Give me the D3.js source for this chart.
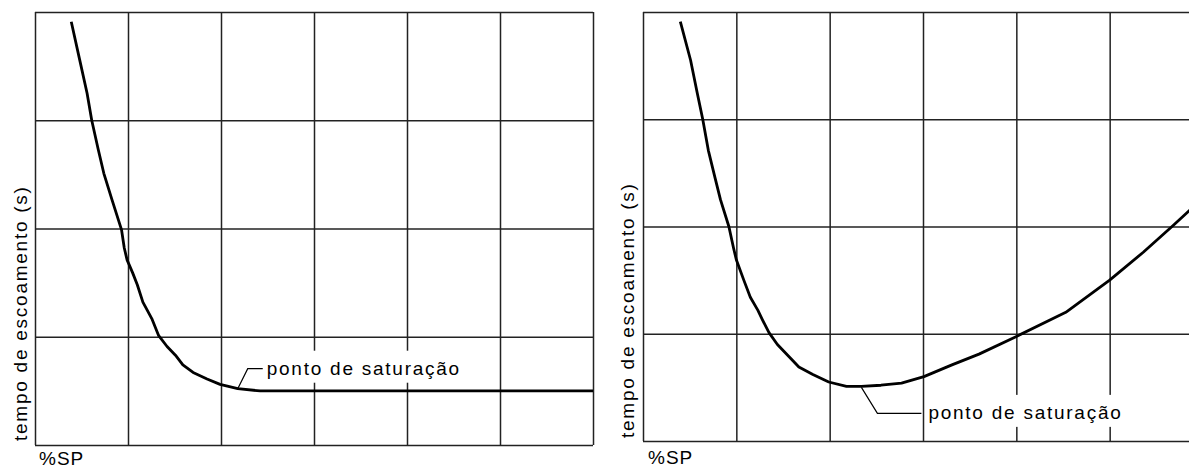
<!DOCTYPE html>
<html>
<head>
<meta charset="utf-8">
<script src="https://cdn.jsdelivr.net/npm/d3@7"></script>
<style>
  html, body { margin: 0; padding: 0; background: #fff; }
  svg { display: block; }
  text { font-family: "Liberation Sans", Arial, Helvetica, sans-serif; fill: #000; }
</style>
</head>
<body>
<svg id="chart" width="1189" height="467"></svg>
<script>
// ---- data (grid units: x = %SP divisions, y = time divisions) ----
const xTicks = [0, 1, 2, 3, 4, 5, 6];
const yTicks = [0, 1, 2, 3, 4];

const yLabel = "tempo de escoamento (s)";
const xLabel = "%SP";
const satLabel = "ponto de saturação";

// left chart: curve flattens at saturation point
const leftX = [0.39, 0.48, 0.56, 0.61, 0.68, 0.74, 0.83, 0.93, 0.96, 0.99, 1.05, 1.10, 1.16, 1.26, 1.33, 1.42, 1.51, 1.59, 1.70, 1.85, 1.99, 2.18, 2.42, 6.00];
const leftY = [3.91, 3.56, 3.25, 3.00, 2.73, 2.51, 2.26, 1.99, 1.82, 1.71, 1.59, 1.48, 1.32, 1.16, 1.01, 0.91, 0.83, 0.74, 0.67, 0.61, 0.56, 0.52, 0.50, 0.50];
const leftSat = [2.18, 0.52];

// right chart: curve rises again after saturation point
const rightX = [0.40, 0.51, 0.58, 0.64, 0.70, 0.77, 0.83, 0.92, 0.97, 1.00, 1.08, 1.15, 1.23, 1.28, 1.35, 1.44, 1.55, 1.67, 1.82, 1.99, 2.18, 2.34, 2.55, 2.77, 3.01, 3.31, 3.60, 3.99, 4.53, 5.00, 5.36, 5.68, 5.88];
const rightY = [3.91, 3.55, 3.25, 3.00, 2.71, 2.46, 2.25, 2.00, 1.80, 1.69, 1.50, 1.34, 1.22, 1.13, 1.01, 0.90, 0.80, 0.69, 0.62, 0.55, 0.51, 0.51, 0.52, 0.54, 0.60, 0.71, 0.81, 0.97, 1.20, 1.50, 1.76, 2.01, 2.17];
const rightSat = [2.34, 0.50];

// ---- layout ----
const FONT = "19px";
const SPACING = "1.75px";
const panels = [
  { xs: leftX, ys: leftY, sat: leftSat,
    x0: 35, x1: 593, y0: 445, y1: 12,
    ylabX: 27, ylabY: 441, xlabX: 39, xlabY: 465,
    leader: [[0, 0], [10, -20], [25, -20]], textDx: 29, textDy: -14 },
  { xs: rightX, ys: rightY, sat: rightSat,
    x0: 643, x1: 1203, y0: 441, y1: 12,
    ylabX: 634, ylabY: 438, xlabX: 648, xlabY: 464,
    leader: [[0, 0], [16, 26], [60, 26]], textDx: 67, textDy: 31.5 }
];

const svg = d3.select("#chart");

panels.forEach(p => {
  const x = d3.scaleLinear().domain([0, 6]).range([p.x0, p.x1]);
  const y = d3.scaleLinear().domain([0, 4]).range([p.y0, p.y1]);
  const g = svg.append("g");

  // grid via axes
  const gx = g.append("g")
    .attr("transform", `translate(0,${p.y0})`)
    .call(d3.axisBottom(x).tickValues(xTicks).tickSize(-(p.y0 - p.y1)).tickFormat(""));
  const gy = g.append("g")
    .attr("transform", `translate(${p.x0},0)`)
    .call(d3.axisLeft(y).tickValues(yTicks).tickSize(-(p.x1 - p.x0)).tickFormat(""));
  [gx, gy].forEach(a => {
    a.select(".domain").remove();
    a.selectAll(".tick text").remove();
    a.selectAll(".tick line").attr("stroke", "#222").attr("stroke-width", 1.5);
  });

  // saturation label with white background
  const sx = x(p.sat[0]), sy = y(p.sat[1]);
  const lab = g.append("g");
  const t = lab.append("text")
    .attr("x", sx + p.textDx).attr("y", sy + p.textDy)
    .attr("font-size", FONT).attr("letter-spacing", SPACING)
    .text(satLabel);
  const bb = t.node().getBBox();
  lab.insert("rect", () => t.node())
    .attr("x", bb.x - 3).attr("y", sy + p.textDy - 24)
    .attr("width", bb.width + 3).attr("height", 32)
    .attr("fill", "#fff");

  // leader line
  g.append("path")
    .attr("d", d3.line()(p.leader.map(d => [sx + d[0], sy + d[1]])))
    .attr("fill", "none").attr("stroke", "#000").attr("stroke-width", 1.2);

  // curve
  const pts = p.xs.map((v, i) => [v, p.ys[i]]);
  g.append("path")
    .datum(pts)
    .attr("d", d3.line().x(d => x(d[0])).y(d => y(d[1])).curve(d3.curveLinear))
    .attr("fill", "none").attr("stroke", "#000").attr("stroke-width", 2.8)
    .attr("stroke-linejoin", "round").attr("stroke-linecap", "butt");

  // axis labels
  g.append("text")
    .attr("transform", `translate(${p.ylabX},${p.ylabY}) rotate(-90)`)
    .attr("font-size", FONT).attr("letter-spacing", SPACING)
    .text(yLabel);
  g.append("text")
    .attr("x", p.xlabX).attr("y", p.xlabY)
    .attr("font-size", FONT).attr("letter-spacing", "1px")
    .text(xLabel);
});
</script>
</body>
</html>
